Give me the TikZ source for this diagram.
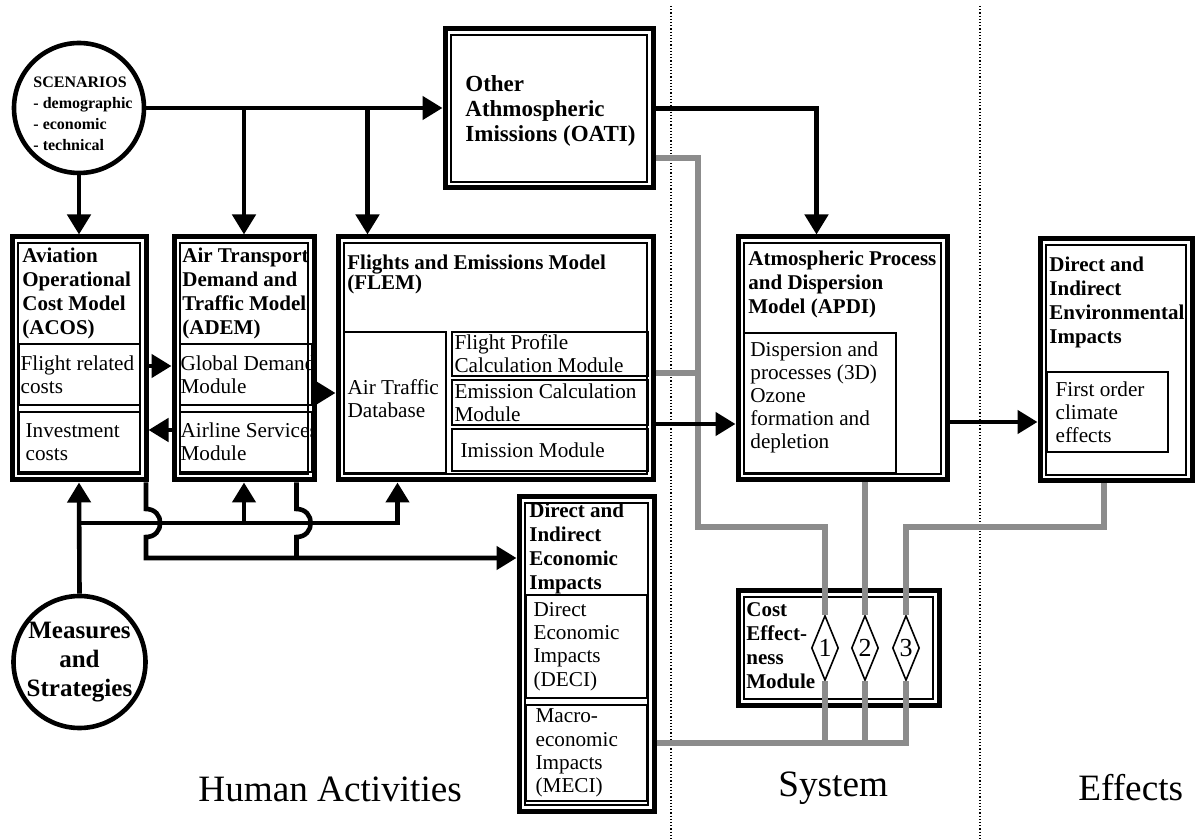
\documentclass[tikz,border=0pt]{standalone}
\usepackage{fontspec}
\setmainfont{Liberation Serif}
\usetikzlibrary{arrows.meta,shapes.geometric,fit}

\tikzset{
  bigbox/.style={draw, line width=2.5pt, inner sep=0pt,
    path picture={\draw[line width=0.8pt]
      ([shift={(2.9pt,-2.9pt)}]path picture bounding box.north west) rectangle
      ([shift={(-2.9pt,2.9pt)}]path picture bounding box.south east);}},
  modbox/.style={draw, line width=0.8pt, inner sep=0pt},
  head/.style={font=\bfseries\fontsize{10.5}{12}\selectfont, align=left,
    inner sep=0pt, anchor=north west},
  modtext/.style={font=\fontsize{10.6}{11.6}\selectfont, align=left,
    inner sep=0pt, anchor=west},
  ring/.style={circle, draw, line width=2.3pt, inner sep=0pt},
  diam/.style={diamond, draw, line width=0.8pt, fill=white, inner sep=0pt,
    aspect=0.42, minimum width=13.5pt, minimum height=32.5pt,
    font=\fontsize{13}{13}\selectfont},
  conn/.style={line width=2.3pt, -{Triangle[length=10pt,width=11.5pt]}},
  wire/.style={line width=2.3pt},
  gline/.style={draw=gray!90, line width=2.8pt},
  zoneline/.style={densely dotted, line width=0.6pt},
  zonelabel/.style={font=\fontsize{18.6}{22}\selectfont, anchor=base west,
    inner sep=0pt},
}

\begin{document}
\begin{tikzpicture}[x=0.5pt,y=-0.5pt]
\useasboundingbox (0,0) rectangle (1195,839);

% zone separators
\draw[zoneline] (671,6) -- (671,839);
\draw[zoneline] (980,6) -- (980,839);

% main models
\node[bigbox, fit={(12,237) (146,480)}] (acos) {};
\node[bigbox, fit={(174,237) (314,480)}] (adem) {};
\node[bigbox, fit={(338,237) (653,480)}] (flem) {};
\node[bigbox, fit={(445,29) (653,188)}] (oati) {};
\node[bigbox, fit={(738,237) (947,480)}] (apdi) {};
\node[bigbox, fit={(1040,239) (1192,481)}] (envi) {};
\node[bigbox, fit={(519,497) (654,811)}] (econ) {};
\node[bigbox, fit={(738,591) (939,705)}] (cem) {};

\node[head] (acos-h) at (22,248) {Aviation\\Operational\\Cost Model\\(ACOS)};
\node[head] (adem-h) at (182,248) {Air Transport\\Demand and\\Traffic Model\\(ADEM)};
\node[head] (flem-h) at (347,255) {Flights and Emissions Model\\[-2pt](FLEM)};
\node[head, font=\bfseries\fontsize{11.5}{12.5}\selectfont] (oati-h) at (465,75)
  {Other\\Athmospheric\\Imissions (OATI)};
\node[head] (apdi-h) at (748,251) {Atmospheric Process\\and Dispersion\\Model (APDI)};
\node[head] (envi-h) at (1049,257) {Direct and\\Indirect\\Environmental\\Impacts};
\node[head] (econ-h) at (529,503) {Direct and\\Indirect\\Economic\\Impacts};
\node[head] (cem-h) at (746,602) {Cost\\Effect-\\ness\\Module};

% modules
\node[modbox, fit={(19,344) (140,405)}] (flightcost) {};
\node[modbox, fit={(19,412) (140,472)}] (invest) {};
\node[modbox, fit={(180,344) (312,405)}] (globdem) {};
\node[modbox, fit={(180,412) (312,472)}] (airserv) {};
\node[modbox, fit={(344,332) (446,473)}] (atdb) {};
\node[modbox, fit={(452,332) (648,376)}] (fprof) {};
\node[modbox, fit={(452,380) (648,425)}] (emcalc) {};
\node[modbox, fit={(452,429) (648,471)}] (imis) {};
\node[modbox, fit={(744,333) (896,473)}] (disp) {};
\node[modbox, fit={(1047,372) (1168,452)}] (climate) {};
\node[modbox, fit={(526,595) (647,698)}] (deci) {};
\node[modbox, fit={(526,705) (647,801)}] (meci) {};

\node[modtext] (flightcost-t) at ([shift={(2,0)}]flightcost.west) {Flight related\\costs};
\node[modtext] (invest-t) at ([shift={(7,0)}]invest.west) {Investment\\costs};
\node[modtext] (globdem-t) at ([shift={(1,0)}]globdem.west) {Global Demand\\Module};
\node[modtext] (airserv-t) at ([shift={(1,0)}]airserv.west) {Airline Services\\Module};
\node[modtext] (atdb-t) at ([shift={(4,-4)}]atdb.west) {Air Traffic\\Database};
\node[modtext] (fprof-t) at ([shift={(3,0)}]fprof.west) {Flight Profile\\Calculation Module};
\node[modtext] (emcalc-t) at ([shift={(3,0)}]emcalc.west) {Emission Calculation\\Module};
\node[modtext] (imis-t) at ([shift={(9,0)}]imis.west) {Imission Module};
\node[modtext, anchor=north west] (disp-t) at (750,341)
  {Dispersion and\\processes (3D)\\Ozone\\formation and\\depletion};
\node[modtext] (climate-t) at ([shift={(9,0)}]climate.west) {First order\\climate\\effects};
\node[modtext] (deci-t) at ([shift={(8,0)}]deci.west) {Direct\\Economic\\Impacts\\(DECI)};
\node[modtext] (meci-t) at ([shift={(10,0)}]meci.west) {Macro-\\economic\\Impacts\\(MECI)};

% drivers
\node[ring, minimum size=65pt] (scen) at (79,108) {};
\node[font=\bfseries\fontsize{8}{10.5}\selectfont, align=left, inner sep=0pt]
  (scen-t) at (83,114) {SCENARIOS\\- demographic\\- economic\\- technical};
\node[ring, minimum size=66pt, font=\bfseries\fontsize{12.5}{14.3}\selectfont,
  align=center] (meas) at (79.5,662) {Measures\\and\\Strategies};

% cost effectiveness links
\node[diam] (d1) at (825,648) {1};
\node[diam] (d2) at (865,648) {2};
\node[diam] (d3) at (906,648) {3};

% zone labels
\node[zonelabel] (human) at (198,801) {Human Activities};
\node[zonelabel] (system) at (778,796) {System};
\node[zonelabel] (effects) at (1078,800) {Effects};

% attachment points
\coordinate (flem-in) at ([shift={(32,0)}]flem.north west);
\coordinate (flem-up) at ([shift={(62,0)}]flem.south west);
\coordinate (apdi-in) at ([shift={(81,0)}]apdi.north west);
\coordinate (acos-out) at ([shift={(-2.5,0)}]acos.south east);
\coordinate (adem-out) at ([shift={(-20,0)}]adem.south east);

% grey links
\draw[gline] (oati.east |- 0,158) -| (698,527) -| (d1.north);
\draw[gline] (flem.east |- 0,373) -- (698,373);
\draw[gline] (apdi.south -| d2.north) -- (d2.north);
\draw[gline] (envi.south -| 1104,0) |- (d3.north |- 0,527) -- (d3.north);
\draw[gline] (econ.east |- 0,743) -| (d3.south);
\draw[gline] (d1.south) -- (d1.south |- 0,743);
\draw[gline] (d2.south) -- (d2.south |- 0,743);

% flows
\draw[conn] (scen.east) -- (scen.east -| oati.west);
\draw[conn] (scen.east -| adem.north) -- (adem.north);
\draw[conn] (scen.east -| flem-in) -- (flem-in);
\draw[conn] (scen.south) -- (acos.north);
\draw[conn] (oati.east) -| (apdi-in);

\draw[conn] (acos.east |- 0,366) -- (adem.west |- 0,366);
\draw[conn] (adem.west |- 0,430) -- (acos.east |- 0,430);
\draw[conn] (adem.east |- 0,393) -- (flem.west |- 0,393);
\draw[conn] (flem.east |- 0,424) -- (apdi.west |- 0,424);
\draw[conn] (apdi.east |- 0,422) -- (envi.west |- 0,422);

\draw[conn] (meas.north) -- (acos.south);
\draw[conn] (meas.north |- 0,523) -| (flem-up);
\draw[conn] (adem.south |- 0,523) -- (adem.south);

\draw[conn] (acos-out) -- (acos-out |- 0,509) .. controls +(19,0) and +(19,0) ..
  (acos-out |- 0,537) -- (acos-out |- 0,558) -- (econ.west |- 0,558);
\draw[wire] (adem-out) -- (adem-out |- 0,509) .. controls +(19,0) and +(19,0) ..
  (adem-out |- 0,537) -- (adem-out |- 0,558);
\end{tikzpicture}
\end{document}
